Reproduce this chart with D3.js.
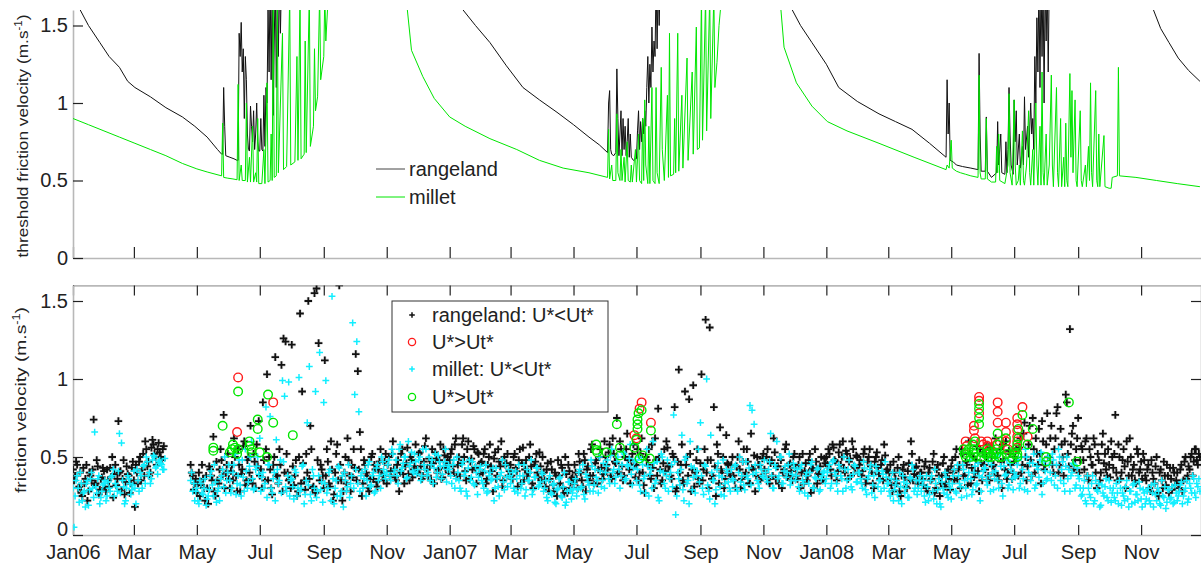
<!DOCTYPE html>
<html><head><meta charset="utf-8">
<script src="https://cdn.jsdelivr.net/npm/d3@7"></script>
<style>body{margin:0;background:#fff} text{font-family:"Liberation Sans",Arial,Helvetica,sans-serif}</style>
</head><body><svg id="c" width="1201" height="566"></svg>
<script>
// ---------- DATA ----------
const startDate = new Date(2006,0,1);
const endDate = new Date(2008,11,30);
const tickLabels = ['Jan06','Mar','May','Jul','Sep','Nov','Jan07','Mar','May','Jul','Sep','Nov','Jan08','Mar','May','Jul','Sep','Nov'];
const yTicks = [0,0.5,1,1.5];
const yTickLabels = ['0','0.5','1','1.5'];
const legendTop = ['rangeland','millet'];
const legendBottom = ['rangeland: U*<Ut*','U*>Ut*','millet: U*<Ut*','U*>Ut*'];

// threshold friction velocity [day since 1 Jan 2006, value]
const rangelandThr = [[0,1.72],[7,1.6],[15,1.5],[26,1.39],[35,1.3],[45,1.23],[53,1.14],[60,1.1],[75,1.04],[90,.97],[106,.91],[118,.85],[130,.78],[140,.7],[144,.67],
[145,.67],[146,1.1],[147,.85],[148,.66],[152,.65],[156,.64],[159,.63],[160,.63],[161,1.45],[162,1.3],[163,1.52],[164,1.2],[165,1.35],[166,.9],[167,1.3],[168,1.15],[169,.8],[170,.7],[171,.69],[172,.98],[173,.85],[174,.75],[175,.95],[176,.7],[177,.8],[178,1.0],[179,.75],[180,.69],[181,.69],[182,.9],[183,.7],[184,.69],[185,1.05],[186,.72],[187,1.1],[188,1.0],[189,1.6],[190,1.2],[191,1.8],[192,1.15],[193,1.8],[194,.92],[195,1.4],[196,1.8],[197,1.1],[198,1.8],[199,1.3],[200,1.8],[201,1.45],[202,1.8],[203,1.7],[205,1.9],[250,2.2],[370,1.75],
[378,1.6],[390,1.5],[404,1.39],[420,1.24],[436,1.1],[452,1.02],[469,.94],[485,.86],[500,.78],[510,.73],[518,.68],
[519,1.0],[520,1.08],[521,.7],[522,.67],[524,.66],[526,.68],[527,1.22],[528,.9],[529,.66],[530,.8],[531,.95],[532,.66],[533,.9],[534,.7],[535,.85],[536,.66],[537,.75],[538,.9],[539,.65],[540,.8],[541,.65],[543,.63],[545,.64],[546,.64],[547,.82],[548,.95],[549,.7],[550,.88],[551,.75],[552,.9],[553,.8],[554,.95],[555,.85],[556,1.1],[557,1.3],[558,1.0],[559,1.25],[560,1.1],[561,1.49],[562,1.2],[563,1.4],[564,1.3],[565,1.8],[566,1.35],[567,1.8],[568,1.5],[569,1.8],[571,1.9],[600,2.2],[690,1.75],
[697,1.6],[705,1.5],[716,1.39],[730,1.25],[742,1.1],[760,1.01],[781,.93],[797,.88],[813,.83],[830,.74],[846,.65],
[847,1.15],[848,.8],[849,1.0],[850,.63],[853,.62],[856,.6],[862,.59],[870,.58],[877,.57],[878,1.32],[879,.8],[880,.56],[884,.56],[885,.91],[886,.56],[890,.52],[895,.55],[896,.88],[897,.6],[899,.8],[900,.55],[903,.54],[904,.75],[905,.55],[906,.7],[907,1.1],[908,.8],[909,.6],[911,.54],[912,1.02],[913,.75],[914,.95],[915,.6],[917,.8],[918,.58],[920,.72],[921,.6],[922,1.04],[923,.7],[925,.85],[926,.65],[928,1.0],[929,.8],[930,.9],[931,.7],[932,1.3],[933,1.0],[934,1.55],[935,1.2],[936,1.8],[937,1.1],[938,1.8],[939,1.3],[940,1.8],[941,1.0],[942,1.8],[943,1.4],[944,1.8],[945,1.2],[946,1.8],[948,1.9],[1000,2.2],[1040,1.75],
[1047,1.6],[1054,1.48],[1062,1.39],[1071,1.29],[1081,1.21],[1092,1.14]];

const milletThr = [[0,.9],[15,.86],[30,.82],[45,.78],[60,.74],[75,.70],[90,.66],[106,.61],[120,.575],[130,.555],[144,.53],[145,.87],[146,.52],[150,.515],[155,.51],[159,.505],[160,1.12],[161,.5],[163,.6],[164,.5],[167,.5],[168,1.0],[169,.49],[171,.65],[172,.49],[174,.85],[175,.49],[177,.55],[178,.49],[179,.9],[180,.48],[183,.48],[185,.7],[186,.48],[188,1.13],[189,.49],[191,.5],[192,.8],[193,.5],[194,1.7],[195,.52],[197,.53],[198,1.7],[199,.55],[203,1.45],[204,.57],[207,.59],[210,1.7],[211,.6],[215,.62],[217,1.3],[218,.63],[220,1.7],[221,.64],[224,.67],[225,1.4],[226,.68],[229,1.7],[230,.72],[233,.85],[234,1.35],[235,.95],[237,1.04],[239,1.7],[240,1.15],[243,1.3],[244,1.7],[245,1.4],[247,1.65],[260,2.0],[320,1.75],
[324,1.6],[328,1.34],[339,1.17],[350,1.03],[365,.91],[380,.85],[404,.77],[430,.7],[452,.63],[475,.58],[500,.55],[518,.52],
[519,.83],[520,.51],[522,.6],[523,.5],[526,.5],[527,.93],[528,.55],[530,.5],[531,.7],[532,.5],[534,.65],[535,.49],[537,.75],[538,.5],[540,.49],[541,.6],[542,.49],[545,.7],[546,.49],[548,.8],[549,.5],[551,.48],[552,.9],[553,.5],[554,1.02],[555,.6],[557,.48],[558,.85],[559,.48],[561,1.1],[562,.5],[564,.48],[565,1.1],[566,.55],[568,.48],[570,1.23],[571,.7],[573,.5],[576,1.05],[577,.52],[578,1.45],[579,.53],[582,.54],[583,.9],[584,.55],[586,1.45],[587,.56],[590,1.05],[591,.58],[595,1.29],[596,.63],[600,1.2],[601,.67],[604,1.49],[605,.7],[607,.71],[609,1.7],[610,.76],[613,1.7],[614,.82],[617,1.7],[618,.9],[621,1.7],[622,1.1],[624,1.26],[626,1.5],[628,1.65],[640,2.0],[680,1.75],
[686,1.6],[689,1.36],[701,1.13],[716,.98],[731,.88],[750,.82],[781,.74],[815,.65],[846,.57],
[847,.6],[849,.58],[851,.76],[852,.58],[856,.56],[860,.55],[865,.54],[870,.53],[877,.52],[878,1.18],[879,.55],[880,.51],[884,.51],[885,.9],[886,.51],[890,.49],[894,.49],[895,.72],[896,.55],[897,.8],[898,.5],[903,.48],[906,.6],[907,1.06],[908,.55],[910,.47],[912,1.02],[913,.6],[914,.47],[916,.5],[917,.6],[918,.47],[920,.82],[921,.5],[922,.47],[924,.6],[926,.95],[927,.55],[928,.47],[930,.7],[931,.47],[933,1.0],[934,.6],[935,.47],[937,.85],[938,.47],[939,1.2],[940,.55],[941,.47],[943,.8],[944,.47],[946,.6],[948,1.18],[949,.6],[950,.46],[953,1.1],[954,.55],[955,.46],[957,.9],[958,.46],[960,.65],[961,.46],[962,.87],[963,.5],[964,.46],[966,1.19],[967,.65],[968,1.08],[969,.55],[971,1.02],[972,.5],[973,.46],[976,.95],[977,.5],[978,.46],[981,.6],[982,.46],[984,.72],[985,.5],[986,1.13],[987,.55],[988,.46],[991,1.08],[992,.5],[993,.46],[994,.8],[995,.46],[999,.79],[1000,.46],[1004,.45],[1006,.45],[1007,.52],[1012,.53],[1013,1.23],[1014,.53],[1030,.52],[1050,.5],[1070,.48],[1092,.46]];

// friction velocity, one value every 2 days (null = no data); "a" arrays start on the
// year's first day, "b" arrays on the following day
const scatterStep = 2;
const rangeU2006a = [.42,.38,.45,.31,.27,.43,.36,.22,.40,.35,.74,.33,.44,.29,.37,.41,
.28,.35,.43,.50,.39,.32,.73,.41,.36,.26,.44,.38,.33,.47,
.18,.40,.47,.35,.52,.60,.44,.38,.56,.58,.50,.55,.53,.48,.57,
null,null,null,null,null,null,null,null,null,null,null,null,
.45,.38,.33,
.27,.40,.32,.36,.22,.30,.44,.38,.63,.25,.35,.42,.48,.77,.40,.52,
.30,.45,.62,.38,.55,.28,.42,.60,.35,.50,.70,.33,.47,.58,.73,
.42,.85,.35,1.03,.50,.30,.45,1.14,.38,.55,1.09,1.26,1.24,.40,.36,
1.22,.32,.48,.28,1.42,.92,.35,.52,1.50,.70,.30,1.55,1.58,1.23,.45,.38,
1.12,.55,.33,.60,.22,.40,.58,1.60,.35,.28,.50,.62,.38,.45,.55,
1.16,1.05,.66,.25,.48,.40,.30,.36,.52,.45,.34,.42,.55,.38,.47,
.33,.50,.41,.60,.37,.45,.28,.52,.39,.44,.56,.35,.48,.42,.58,
.40,.53,.36,.47,.62,.38,.45,.55,.33,.49,.42,.58,.37,.51,.46,.40];
const rangeU2006b = [.35,.47,.30,.40,.25,.33,.45,.28,.38,.42,.32,.48,.26,.36,.43,.30,
.42,.31,.37,.24,.45,.36,.40,.29,.48,.34,.39,.27,.43,.35,
.45,.33,.50,.42,.38,.55,.47,.40,.61,.52,.45,.59,.50,.55,
null,null,null,null,null,null,null,null,null,null,null,null,null,
.40,.29,.36,
.33,.25,.45,.30,.38,.20,.42,.35,.28,.47,.33,.55,.38,.30,.45,.36,
.41,.35,.50,.28,.45,.39,.57,.32,.48,.40,.36,.52,.30,.44,.38,
.30,.48,.55,.35,.42,.26,.50,.38,.33,.45,.28,.40,.52,.35,.30,
.44,.38,.25,.50,.33,.46,.29,.40,.36,.55,.31,.27,.48,.35,.42,.30,
.38,.47,.31,.42,.26,.52,.35,.45,.22,.40,.33,.48,.28,.37,.43,
.35,.42,.55,.33,.45,.38,.28,.50,.36,.42,.31,.47,.40,.35,.52,
.45,.38,.52,.42,.35,.48,.40,.55,.33,.46,.39,.50,.37,.44,.41,
.52,.44,.38,.57,.42,.49,.35,.46,.53,.40,.48,.36,.55,.43,.50];
const milletU2006a = [.30,.25,.38,.21,.33,.27,.18,.35,.29,.40,.24,.31,.36,.20,.28,.33,
.22,.34,.28,.38,.25,.31,.41,.27,.35,.20,.30,.36,.26,.32,
.30,.42,.28,.38,.44,.33,.47,.40,.36,.51,.43,.39,.48,.45,.42,
null,null,null,null,null,null,null,null,null,null,null,null,
.35,.28,.22,
.30,.20,.33,.26,.36,.23,.29,.41,.25,.34,.28,.22,.38,.31,.27,.40,
.35,.30,.45,.26,.38,.32,.48,.28,.41,.34,.50,.36,.30,.44,.39,
.28,.40,.33,.24,.45,.30,.36,.22,.42,.35,.27,.47,.31,.38,.25,
.36,.23,.40,.30,.28,.44,.20,.35,.32,.26,.42,.30,.24,.38,.29,.21,
.33,.27,.40,.22,.36,.30,.25,.43,.28,.18,.35,.31,.24,.38,.30,
.42,.33,.28,.40,.36,.25,.45,.31,.38,.27,.43,.35,.30,.47,.39,
.40,.48,.35,.52,.42,.38,.55,.41,.46,.50,.37,.44,.53,.40,.47,
.42,.50,.38,.45,.55,.40,.35,.48,.43,.37,.51,.44,.39,.47,.34,.45];
const milletU2006b = [.05,.35,.30,.40,.22,.28,.33,.19,.36,.30,.66,.27,.38,.24,.32,.35,
.25,.30,.37,.42,.33,.28,.65,.59,.31,.22,.38,.33,.29,.41,
.20,.35,.40,.30,.45,.50,.38,.33,.48,.50,.44,.47,.46,.42,.49,
null,null,null,null,null,null,null,null,null,null,null,null,
.40,.33,.28,
.22,.35,.27,.30,.19,.25,.38,.32,.45,.21,.30,.36,.42,.50,.35,.45,
.27,.40,.52,.33,.48,.25,.37,.55,.30,.44,.60,.29,.42,.50,.62,
.37,.30,.82,.45,.76,.27,.40,.61,.33,.48,.99,.89,.28,.98,.35,
.31,.42,.25,1.01,.30,.45,.26,.72,1.08,.22,.38,.92,.28,1.17,.34,.85,
.99,.30,.42,1.53,.20,.35,.44,.25,.38,.40,.28,.45,.33,1.36,.90,
1.24,.79,.38,.30,.42,.35,.47,.32,.40,.28,.45,.38,.50,.42,.36,
.45,.38,.55,.40,.48,.33,.58,.43,.50,.36,.60,.46,.41,.52,.39,
.48,.35,.55,.42,.38,.50,.45,.33,.52,.40,.47,.36,.44,.55,.42];
const rangeU2007a = [.48,.55,.40,.62,.45,.38,.58,.50,.35,.60,.47,.42,.55,.33,.52,.46,
.40,.55,.36,.50,.44,.28,.53,.38,.47,.60,.35,.45,.52,.41,
.38,.50,.43,.31,.55,.46,.35,.48,.40,.58,.33,.45,.52,.37,.44,.50,
.35,.42,.28,.47,.32,.40,.25,.38,.45,.30,.50,.27,.41,.36,.33,
.40,.30,.47,.35,.52,.28,.44,.38,.58,.33,.48,.42,.55,.36,.60,
.45,.53,.38,.62,.47,.75,.40,.55,.35,.50,.65,.42,.48,.58,.37,
.55,.40,.62,.32,.50,.45,.38,.58,.30,.48,.81,.42,.35,.55,.60,.44,
.38,.52,.82,.30,1.06,.45,.35,.92,.50,.87,.28,.96,.40,.55,.33,
1.03,.42,1.38,.48,1.33,.36,.82,.25,.52,.69,.40,.30,.64,.45,.38,
.50,.35,.44,.60,.30,.47,.38,.55,.33,.65,.42,.28,.50,.45,.37,.52,
.40,.55,.33,.48,.62,.36,.44,.50,.30,.42,.58,.38,.46,.35,.52,
.38,.45,.30,.52,.41,.35,.48,.27,.43,.55,.33,.40,.50,.36,.46];
const rangeU2007b = [.52,.44,.58,.38,.50,.46,.62,.41,.55,.36,.49,.57,.43,.53,.39,
.47,.52,.33,.45,.58,.41,.49,.36,.55,.44,.31,.50,.46,.38,
.45,.36,.52,.41,.48,.33,.56,.42,.38,.50,.44,.30,.47,.40,.53,.35,
.40,.31,.46,.36,.42,.28,.38,.48,.33,.43,.27,.39,.45,.30,.37,
.45,.36,.52,.40,.31,.48,.42,.35,.55,.38,.46,.33,.50,.43,.39,
.50,.42,.58,.36,.52,.46,.40,.60,.44,.38,.55,.48,.33,.52,.45,
.45,.35,.52,.40,.27,.48,.55,.36,.43,.62,.38,.50,.33,.46,.41,.56,
.44,.36,.50,.28,.47,.40,.58,.33,.45,.38,.52,.42,.31,.48,.36,
.46,.35,.55,.40,.30,.48,.38,.44,.58,.33,.42,.50,.36,.46,.40,
.45,.38,.30,.50,.42,.36,.55,.40,.47,.33,.43,.51,.38,.45,.35,.49,
.42,.50,.36,.46,.38,.53,.44,.33,.48,.40,.55,.37,.45,.41,.50,
.43,.36,.50,.40,.33,.46,.38,.52,.42,.30,.47,.39,.44,.35,.49];
const milletU2007a = [.42,.33,.48,.36,.40,.30,.45,.38,.28,.43,.35,.47,.32,.40,.37,.44,
.33,.41,.27,.38,.35,.43,.30,.36,.25,.40,.34,.45,.31,.38,
.36,.30,.41,.27,.38,.33,.45,.29,.35,.40,.26,.37,.43,.31,.34,.39,
.30,.24,.35,.27,.32,.21,.29,.36,.25,.31,.19,.28,.34,.23,.30,
.36,.29,.42,.31,.26,.39,.34,.28,.44,.32,.37,.27,.41,.35,.30,
.44,.36,.51,.40,.33,.47,.42,.38,.53,.35,.45,.49,.39,.43,.48,
.42,.32,.48,.36,.27,.44,.39,.30,.46,.35,.24,.41,.50,.33,.38,.28,
.40,.31,.47,.25,.36,.42,.29,.48,.33,.20,.44,.37,.27,.41,.34,
.38,.26,.44,.32,.23,.40,.35,.29,.46,.31,.37,.25,.42,.34,.28,
.36,.44,.30,.40,.34,.47,.29,.38,.43,.32,.39,.45,.35,.30,.42,.37,
.40,.34,.47,.38,.30,.43,.36,.50,.33,.41,.37,.45,.32,.39,.43,
.38,.31,.43,.35,.27,.40,.33,.45,.30,.37,.42,.28,.36,.40,.33];
const milletU2007b = [.38,.45,.30,.50,.35,.28,.47,.40,.25,.48,.37,.33,.44,.26,.42,
.35,.30,.45,.28,.40,.36,.22,.43,.31,.38,.48,.29,.37,.42,
.33,.40,.28,.36,.45,.30,.38,.25,.42,.35,.48,.29,.37,.43,.32,.40,
.28,.35,.22,.38,.26,.33,.20,.30,.37,.24,.40,.21,.34,.29,.27,
.33,.25,.40,.30,.45,.23,.37,.32,.48,.28,.42,.35,.50,.31,.46,
.40,.48,.33,.55,.42,.37,.50,.30,.45,.52,.36,.44,.58,.32,.47,
.35,.50,.28,.45,.38,.55,.25,.42,.60,.33,.47,.22,.52,.40,.30,.48,
.36,.45,.77,.13,.40,.32,.64,.22,.50,.35,.60,.29,.43,.38,.55,
.72,.30,.45,1.00,.28,.64,.35,.20,.42,.38,.26,.48,.33,.40,.30,
.42,.35,.45,.28,.50,.38,.32,.47,.36,.83,.80,.71,.40,.33,.45,.38,
.48,.36,.42,.65,.30,.45,.60,.38,.50,.33,.44,.40,.52,.35,.46,
.35,.42,.28,.45,.33,.38,.25,.40,.47,.30,.36,.43,.29,.38,.41];
const rangeU2008a = [.50,.55,.42,.58,.48,.35,.53,.45,.60,.40,.52,.47,.38,.55,.43,.50,
.45,.38,.52,.33,.47,.55,.40,.30,.50,.43,.36,.48,.58,.41,
.35,.45,.28,.40,.33,.50,.25,.42,.37,.30,.46,.60,.35,.43,.38,.48,
.40,.32,.47,.28,.43,.36,.52,.30,.45,.25,.38,.50,.33,.42,.29,
.48,.35,.55,.42,.30,.52,.38,.45,.60,.33,.50,.40,.57,.28,.46,.53,
.42,.58,.35,.50,.45,.62,.38,.55,.30,.48,.60,.40,.52,.36,.47,
.55,.38,.62,.45,.72,.35,.58,.48,.75,.40,.52,.68,.33,.60,.45,.78,
.50,.70,.40,.62,.82,.45,.58,.38,.90,.52,1.32,.65,.42,.55,.75,.48,
.55,.42,.62,.35,.50,.45,.58,.30,.48,.40,.65,.52,.38,.45,.60,
.43,.77,.35,.50,.40,.55,.30,.47,.62,.38,.45,.33,.52,.42,.36,.48,
.35,.45,.28,.40,.33,.50,.25,.42,.30,.38,.45,.27,.36,.43,.32,
.40,.30,.45,.35,.50,.38,.42,.52,.47,.55,.45,.50];
const rangeU2008b = [.45,.52,.38,.56,.47,.41,.58,.50,.43,.54,.36,.49,.60,.44,.51,.40,
.48,.41,.55,.36,.50,.44,.33,.47,.53,.39,.45,.35,.51,.42,
.40,.32,.47,.36,.43,.28,.38,.45,.31,.41,.35,.52,.39,.44,.33,.40,
.36,.44,.30,.40,.35,.47,.27,.42,.38,.33,.46,.31,.40,.36,.44,
.40,.50,.36,.45,.55,.38,.47,.32,.52,.43,.37,.48,.41,.55,.35,.45,
.50,.38,.56,.44,.40,.52,.35,.47,.58,.42,.36,.54,.45,.40,.50,
.48,.56,.40,.65,.50,.44,.70,.38,.55,.62,.45,.52,.73,.42,.58,.50,
.62,.45,.55,.78,.40,.68,.50,.60,.85,.44,.58,.70,.48,.62,.40,.57,
.48,.60,.38,.55,.45,.62,.40,.52,.35,.58,.46,.42,.55,.37,.50,
.52,.40,.58,.36,.48,.44,.60,.38,.50,.42,.35,.55,.40,.47,.52,.38,
.42,.30,.48,.36,.44,.27,.40,.35,.47,.32,.38,.43,.29,.40,.35,
.33,.42,.28,.47,.36,.44,.50,.38,.55,.48,.52];
const milletU2008a = [.36,.43,.30,.47,.40,.33,.45,.38,.28,.42,.35,.48,.31,.39,.44,.34,
.40,.33,.47,.29,.36,.42,.27,.38,.44,.31,.35,.41,.30,.37,
.33,.25,.40,.29,.35,.22,.31,.38,.27,.33,.24,.36,.42,.30,.26,.35,
.28,.35,.21,.31,.26,.38,.23,.33,.29,.20,.34,.27,.37,.24,.30,
.33,.42,.27,.38,.31,.45,.35,.25,.40,.36,.29,.44,.33,.38,.28,.41,
.43,.32,.38,.45,.29,.41,.35,.52,.33,.44,.39,.30,.46,.36,.40,
.38,.48,.33,.42,.29,.50,.40,.35,.46,.30,.44,.37,.53,.33,.41,.36,
.45,.35,.48,.38,.30,.50,.42,.33,.44,.36,.28,.40,.45,.32,.38,.30,
.26,.35,.20,.30,.24,.38,.22,.29,.33,.19,.27,.31,.24,.35,.21,
.30,.22,.27,.35,.19,.25,.31,.23,.28,.20,.33,.26,.22,.30,.18,.27,
.23,.30,.20,.27,.33,.22,.28,.19,.25,.31,.21,.29,.24,.20,.32,
.22,.28,.34,.25,.30,.21,.33,.27,.36,.24,.31,.28];
const milletU2008b = [.40,.45,.33,.48,.38,.28,.43,.36,.50,.30,.42,.37,.29,.45,.34,.40,
.36,.30,.43,.26,.38,.45,.32,.24,.41,.35,.28,.39,.47,.33,
.28,.36,.22,.32,.26,.40,.20,.34,.30,.24,.37,.45,.28,.35,.30,.38,
.32,.25,.38,.22,.35,.28,.42,.20,.36,.18,.30,.40,.26,.33,.23,
.38,.28,.45,.33,.24,.42,.30,.36,.48,.26,.40,.32,.46,.22,.37,.43,
.35,.47,.28,.40,.36,.50,.30,.44,.25,.38,.48,.32,.42,.29,.37,
.45,.30,.50,.36,.55,.28,.46,.38,.52,.32,.42,.48,.26,.47,.35,.50,
.40,.52,.32,.45,.55,.35,.47,.28,.50,.42,.38,.46,.30,.43,.36,.25,
.30,.22,.38,.26,.33,.20,.35,.28,.18,.32,.25,.36,.22,.30,.27,
.24,.33,.20,.30,.27,.22,.35,.18,.28,.32,.21,.26,.34,.23,.29,.20,
.28,.22,.32,.18,.26,.30,.20,.35,.24,.17,.29,.23,.31,.21,.27,
.25,.32,.20,.28,.35,.23,.30,.38,.27,.33,.36];

// U* > Ut*  [day, value]
const rangelandExceed = [[160,1.01],[159,.66],[194,.85],
[551,.85],[549,.81],[546,.62],[544,.64],[560,.72],
[865,.6],[873,.7],[873,.67],[878,.885],[878,.86],[878,.78],[886,.6],[886,.57],[895,.58],[896,.85],[896,.79],[896,.72],[904,.72],[904,.66],[904,.6],[915,.75],[915,.71],[915,.67],[915,.63],[915,.6],[915,.56],[920,.82],[925,.63],[888,.55],[866,.57],[874,.62],[880,.6],[882,.58],[898,.6],[906,.55]];
const milletExceed = [[136,.56],[136,.54],[145,.70],[152,.53],[154,.55],[155,.58],[157,.56],[159,.52],[160,.92],[160,.55],[171,.60],[171,.57],[173,.53],[173,.55],[179,.74],[179,.68],[181,.53],[188,.50],[189,.90],[194,.72],[213,.64],
[507,.58],[507,.545],[508,.53],[517,.53],[527,.71],[530,.56],[530,.51],[544,.56],[546,.61],[547,.74],[547,.71],[547,.68],[548,.78],[551,.8],[549,.49],[552,.51],[559,.49],[560,.67],
[863,.55],[864,.52],[865,.5],[866,.53],[868,.55],[870,.5],[872,.58],[873,.55],[873,.52],[874,.6],[875,.5],[878,.84],[878,.81],[878,.75],[878,.71],[880,.53],[880,.5],[884,.52],[886,.55],[886,.52],[887,.5],[888,.53],[890,.5],[892,.52],[895,.55],[895,.52],[896,.65],[896,.58],[897,.5],[900,.5],[904,.62],[904,.55],[905,.52],[910,.49],[912,.52],[914,.55],[915,.52],[915,.5],[915,.58],[916,.62],[916,.68],[920,.77],[925,.58],[930,.68],[943,.5],[943,.47],[965,.85],[973,.47]];

// ---------- DRAW ----------
const svg = d3.select('#c');
const dayDate = d => d3.timeDay.offset(startDate, d);
const x = d3.scaleTime().domain([startDate, endDate]).range([73, 1202]);
const yT = d3.scaleLinear().domain([0,1.6]).range([258, 10]);
const yB = d3.scaleLinear().domain([0,1.6]).range([535, 285.4]);
const tickDates = d3.timeMonth.every(2).range(startDate, endDate);

const defs = svg.append('defs');
defs.append('clipPath').attr('id','clipT').append('rect').attr('x',73).attr('y',10).attr('width',1129).attr('height',248);
defs.append('clipPath').attr('id','clipB').append('rect').attr('x',73).attr('y',285.4).attr('width',1129).attr('height',249.6);

function styleAxis(g){
  g.select('.domain').attr('stroke','#b8b8b8').attr('stroke-width',1.6);
  g.selectAll('.tick line').attr('stroke','#222').attr('stroke-width',1.2);
  g.selectAll('.tick text').attr('fill','#222').style('font-size','20px').style('font-family','"Liberation Sans",Arial,sans-serif');
}

// ----- top panel -----
svg.append('g').attr('transform','translate(0,258)')
  .call(d3.axisBottom(x).tickValues(tickDates).tickSize(-11).tickSizeOuter(0).tickFormat(''))
  .call(styleAxis);
svg.append('g').attr('transform','translate(73,0)')
  .call(d3.axisLeft(yT).tickValues(yTicks).tickSize(-10).tickSizeOuter(0).tickPadding(5).tickFormat((d,i)=>yTickLabels[i]))
  .call(styleAxis);

const lineT = d3.line().x(d=>x(dayDate(d[0]))).y(d=>yT(d[1]));
const gT = svg.append('g').attr('clip-path','url(#clipT)');
gT.append('path').datum(rangelandThr).attr('d',lineT).attr('fill','none').attr('stroke','#111').attr('stroke-width',1);
gT.append('path').datum(milletThr).attr('d',lineT).attr('fill','none').attr('stroke','#00e600').attr('stroke-width',1);

// top legend
const legT = svg.append('g');
[['#444',169],['#00e600',197]].forEach((c,i)=>{
  legT.append('line').attr('x1',376).attr('x2',405).attr('y1',c[1]).attr('y2',c[1]).attr('stroke',c[0]).attr('stroke-width',1);
  legT.append('text').attr('x',409).attr('y',c[1]).attr('dy','0.35em').style('font-size','20px').attr('fill','#222').text(legendTop[i]);
});

// y label top
const labT = svg.append('text').attr('transform','translate(28,136) rotate(-90)').attr('text-anchor','middle')
  .style('font-size','15px').attr('fill','#222').attr('textLength',243).attr('lengthAdjust','spacingAndGlyphs');
labT.append('tspan').text('threshold friction velocity (m.s');
labT.append('tspan').attr('dy','-6').style('font-size','10px').text('-1');
labT.append('tspan').attr('dy','6').text(')');

// ----- bottom panel -----
svg.append('g').attr('transform','translate(0,535)')
  .call(d3.axisBottom(x).tickValues(tickDates).tickSize(-10).tickSizeOuter(0).tickPadding(9.5).tickFormat((d,i)=>tickLabels[i]))
  .call(styleAxis);
svg.append('g').attr('transform','translate(0,285.4)')
  .call(d3.axisTop(x).tickValues(tickDates).tickSize(-10).tickSizeOuter(0).tickFormat(''))
  .call(styleAxis);
const yAxB = svg.append('g').attr('transform','translate(73,0)')
  .call(d3.axisLeft(yB).tickValues(yTicks).tickSize(-10).tickSizeOuter(0).tickPadding(5).tickFormat((d,i)=>yTickLabels[i]))
  .call(styleAxis);
// lift the bottom "0" a little so it clears "Jan06"
yAxB.selectAll('.tick text').filter(d=>d===0).attr('dy','0.02em');
svg.append('g').attr('transform','translate(1201,0)')
  .call(d3.axisRight(yB).tickValues(yTicks).tickSize(-10).tickSizeOuter(0).tickFormat(''))
  .call(styleAxis);

function expand(vals, firstDay){
  return vals.map((v,i)=>({day:firstDay+scatterStep*i, v})).filter(d=>d.v!==null);
}
const rangeU = [].concat(expand(rangeU2006a,0), expand(rangeU2006b,1), expand(rangeU2007a,365), expand(rangeU2007b,366), expand(rangeU2008a,730), expand(rangeU2008b,731));
const milletU = [].concat(expand(milletU2006a,0), expand(milletU2006b,1), expand(milletU2007a,365), expand(milletU2007b,366), expand(milletU2008a,730), expand(milletU2008b,731));

const plusBlack = 'M-3.8,0H3.8M0,-3.8V3.8';
const plusCyan = 'M-3.4,0H3.4M0,-3.4V3.4';
const gB = svg.append('g').attr('clip-path','url(#clipB)');
// soft grey halo under the black markers
gB.append('g').selectAll('path').data(rangeU).join('path')
  .attr('transform',d=>`translate(${x(dayDate(d.day))},${yB(d.v)})`).attr('d',plusBlack)
  .attr('stroke','#999').attr('stroke-opacity',0.3).attr('stroke-width',3.4).attr('fill','none');
gB.append('g').selectAll('path').data(rangeU).join('path')
  .attr('transform',d=>`translate(${x(dayDate(d.day))},${yB(d.v)})`).attr('d',plusBlack)
  .attr('stroke','#111').attr('stroke-width',1.8).attr('fill','none');
gB.append('g').selectAll('circle').data(rangelandExceed).join('circle')
  .attr('cx',d=>x(dayDate(d[0]))).attr('cy',d=>yB(d[1])).attr('r',4.3)
  .attr('fill','none').attr('stroke','#ff1a1a').attr('stroke-width',1.4);
gB.append('g').selectAll('path').data(milletU).join('path')
  .attr('transform',d=>`translate(${x(dayDate(d.day))},${yB(d.v)})`).attr('d',plusCyan)
  .attr('stroke','#11eeff').attr('stroke-width',1.5).attr('fill','none');
gB.append('g').selectAll('circle').data(milletExceed).join('circle')
  .attr('cx',d=>x(dayDate(d[0]))).attr('cy',d=>yB(d[1])).attr('r',4.3)
  .attr('fill','none').attr('stroke','#00e600').attr('stroke-width',1.4);

// bottom legend
const legB = svg.append('g');
legB.append('rect').attr('x',392).attr('y',301).attr('width',216).attr('height',111).attr('fill','#fff').attr('stroke','#333').attr('stroke-width',1);
const rows = [315,342,369,397];
legB.append('path').attr('transform',`translate(412,${rows[0]})`).attr('d','M-2.8,0H2.8M0,-2.8V2.8').attr('stroke','#111').attr('stroke-width',1.5);
legB.append('circle').attr('cx',412).attr('cy',rows[1]).attr('r',3.6).attr('fill','none').attr('stroke','#ff1a1a').attr('stroke-width',1.3);
legB.append('path').attr('transform',`translate(412,${rows[2]})`).attr('d','M-2.8,0H2.8M0,-2.8V2.8').attr('stroke','#11eeff').attr('stroke-width',1.5);
legB.append('circle').attr('cx',412).attr('cy',rows[3]).attr('r',3.6).attr('fill','none').attr('stroke','#00e600').attr('stroke-width',1.3);
rows.forEach((r,i)=>legB.append('text').attr('x',432).attr('y',r).attr('dy','0.35em').style('font-size','20px').attr('fill','#222').text(legendBottom[i]));

// y label bottom
const labB = svg.append('text').attr('transform','translate(26,400) rotate(-90)').attr('text-anchor','middle')
  .style('font-size','15px').attr('fill','#222').attr('textLength',186).attr('lengthAdjust','spacingAndGlyphs');
labB.append('tspan').text('friction velocity (m.s');
labB.append('tspan').attr('dy','-6').style('font-size','10px').text('-1');
labB.append('tspan').attr('dy','6').text(')');
</script></body></html>
